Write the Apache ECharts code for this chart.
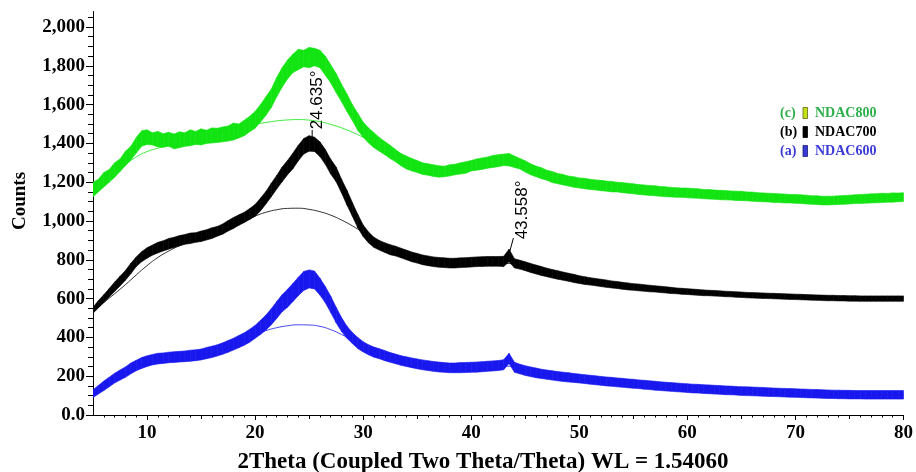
<!DOCTYPE html>
<html><head><meta charset="utf-8">
<script src="https://cdn.jsdelivr.net/npm/echarts@6/dist/echarts.min.js"></script>
<style>html,body{margin:0;padding:0;background:#fff}#c{width:916px;height:472px}</style>
</head><body><div id="c"></div>
<script>
// ---- data ----
const theta = [5,5.5,6,6.5,7,7.5,8,8.5,9,9.5,10,10.5,11,11.5,12,12.5,13,13.5,14,14.5,15,15.5,16,16.5,17,17.5,18,18.5,19,19.5,20,20.5,21,21.5,22,22.5,23,23.5,24,24.5,25,25.5,26,26.5,27,27.5,28,28.5,29,29.5,30,30.5,31,31.5,32,32.5,33,33.5,34,34.5,35,35.5,36,36.5,37,37.5,38,38.5,39,39.5,40,40.5,41,41.5,42,42.5,43,43.5,44,44.5,45,45.5,46,46.5,47,47.5,48,48.5,49,49.5,50,50.5,51,51.5,52,52.5,53,53.5,54,54.5,55,55.5,56,56.5,57,57.5,58,58.5,59,59.5,60,60.5,61,61.5,62,62.5,63,63.5,64,64.5,65,65.5,66,66.5,67,67.5,68,68.5,69,69.5,70,70.5,71,71.5,72,72.5,73,73.5,74,74.5,75,75.5,76,76.5,77,77.5,78,78.5,79,79.5,80];

// NDAC800 (c) – upper / lower edge of the noisy trace
const hi800 = [1200,1215,1250,1265,1300,1320,1360,1385,1430,1465,1470,1455,1462,1450,1458,1448,1460,1455,1470,1462,1475,1468,1480,1478,1485,1490,1505,1500,1520,1540,1565,1600,1640,1680,1740,1790,1830,1860,1885,1880,1895,1890,1880,1850,1805,1760,1705,1655,1600,1555,1510,1480,1455,1430,1410,1390,1368,1348,1335,1322,1312,1300,1295,1290,1285,1282,1290,1293,1300,1305,1312,1320,1325,1330,1338,1342,1345,1348,1335,1322,1310,1295,1283,1275,1262,1255,1245,1240,1232,1228,1222,1220,1215,1212,1210,1206,1204,1200,1198,1195,1192,1188,1186,1183,1182,1178,1176,1173,1172,1170,1170,1168,1166,1163,1162,1160,1158,1157,1155,1154,1153,1150,1149,1146,1145,1143,1142,1140,1139,1137,1137,1135,1133,1130,1130,1127,1128,1128,1130,1131,1133,1135,1137,1138,1140,1141,1143,1142,1145,1144,1146];
const lo800 = [1125,1150,1175,1200,1225,1255,1285,1315,1350,1385,1395,1392,1382,1380,1385,1372,1378,1385,1388,1395,1392,1400,1402,1405,1408,1412,1418,1428,1440,1460,1478,1510,1545,1585,1640,1690,1732,1765,1780,1795,1790,1800,1790,1752,1712,1662,1615,1565,1518,1468,1432,1402,1378,1360,1342,1322,1305,1285,1268,1258,1250,1240,1236,1230,1226,1228,1232,1238,1242,1246,1258,1262,1266,1272,1276,1280,1286,1284,1276,1268,1252,1238,1228,1218,1210,1198,1192,1186,1180,1174,1170,1166,1162,1160,1156,1154,1150,1150,1146,1143,1140,1137,1134,1132,1130,1127,1125,1124,1122,1122,1120,1118,1117,1115,1113,1112,1110,1109,1108,1106,1105,1104,1102,1100,1099,1098,1096,1095,1093,1093,1091,1090,1088,1086,1085,1083,1083,1084,1085,1086,1088,1090,1090,1092,1093,1094,1095,1097,1097,1099,1100];

// NDAC700 (b)
const hi700 = [555,590,620,652,685,715,745,782,815,842,862,876,890,898,910,916,925,930,938,940,948,955,965,972,985,1002,1018,1032,1045,1064,1085,1118,1152,1195,1235,1278,1312,1350,1390,1425,1440,1432,1408,1368,1318,1278,1215,1158,1095,1035,980,943,916,900,888,878,870,860,850,840,833,825,820,815,812,810,808,808,810,811,813,815,816,817,817,817,818,855,806,798,790,781,773,765,757,750,744,737,731,725,718,713,708,704,700,696,691,688,684,681,677,675,672,669,666,664,661,658,655,653,651,649,647,645,643,642,640,638,637,635,634,632,631,630,629,628,627,626,625,624,623,622,621,620,619,618,617,617,616,616,615,615,614,614,614,614,614,614,614,614,614];
const lo700 = [525,552,580,608,637,665,695,728,765,790,808,824,835,846,855,864,872,880,884,890,894,902,910,922,932,948,962,978,992,1008,1025,1052,1088,1125,1165,1202,1238,1270,1310,1345,1360,1358,1332,1292,1242,1202,1145,1082,1025,965,920,887,864,850,838,826,820,810,800,790,783,775,770,765,762,760,758,758,760,761,763,765,766,767,767,767,765,790,758,752,744,735,727,719,713,706,700,695,689,683,678,673,670,666,662,658,655,652,648,645,643,640,638,635,634,631,629,626,625,622,621,619,617,615,615,613,612,610,609,607,606,604,603,602,601,600,599,598,597,596,595,594,593,592,591,590,589,589,588,588,587,587,586,586,586,586,586,586,586,586,586];

// NDAC600 (a)
const hi600 = [130,152,175,195,215,232,248,268,282,296,305,312,318,320,324,326,328,330,334,336,340,348,355,362,372,384,396,410,424,442,462,488,515,548,585,620,648,678,710,740,748,742,705,662,612,555,502,458,425,400,378,362,350,342,332,322,314,306,300,294,289,284,280,276,273,270,268,268,270,271,272,273,275,277,279,281,285,318,272,262,254,248,242,236,232,228,224,221,218,214,211,208,205,202,199,196,194,191,189,186,184,181,179,176,174,171,169,167,165,163,161,159,158,156,155,153,152,150,149,147,146,145,144,143,142,140,139,138,137,136,135,134,133,132,131,130,129,128,128,127,127,126,126,126,126,126,126,126,126,126,126];
const lo600 = [90,108,126,145,165,180,194,212,228,240,250,258,263,266,269,271,273,275,277,280,284,290,296,304,313,323,335,347,360,375,395,415,438,465,498,532,555,585,615,642,655,650,618,578,528,475,430,395,368,343,325,310,298,290,280,272,264,256,250,244,238,233,229,225,222,220,218,218,218,219,220,221,223,225,227,229,233,265,220,212,204,198,192,188,184,180,176,173,170,168,165,162,159,156,153,150,148,145,143,140,138,136,133,131,128,126,124,122,120,118,116,114,113,111,110,108,107,105,104,103,101,100,99,98,97,96,95,94,93,92,91,90,89,88,87,86,85,85,84,84,83,83,83,82,82,82,82,82,82,82,82];

// fitted backgrounds (thin curves), 1-degree steps
const bgTheta = [5,6,7,8,9,10,11,12,13,14,15,16,17,18,19,20,21,22,23,24,25,26,27,28,29,30,31,32,33,34,35,36,37,38,39,40,41,42,43,44,45,46,47,48,49,50,51,52,53,54,55,56,57,58,59,60,61,62,63,64,65,66,67,68,69,70,71,72,73,74,75,76,77,78,79,80];
const bg800 = [1150,1200,1245,1290,1330,1358,1375,1390,1405,1420,1435,1448,1460,1472,1485,1498,1508,1516,1521,1523,1520,1512,1498,1480,1458,1432,1405,1375,1340,1305,1280,1265,1258,1260,1268,1280,1290,1298,1302,1298,1280,1255,1235,1218,1205,1195,1188,1182,1177,1172,1165,1160,1155,1150,1147,1145,1141,1137,1134,1131,1129,1125,1122,1119,1116,1114,1110,1107,1105,1107,1110,1113,1116,1118,1120,1122];
const bg700 = [535,580,625,672,722,770,812,845,872,893,910,927,946,970,998,1025,1045,1058,1065,1066,1060,1048,1030,1005,975,940,900,865,842,825,808,795,787,783,784,786,787,786,783,778,767,750,735,722,710,698,689,681,673,666,660,655,650,645,640,636,632,629,626,623,620,617,615,613,611,609,607,605,603,602,601,600,600,600,600,600];
const bg600 = [105,145,185,218,248,268,282,292,298,304,311,322,338,360,388,413,435,450,460,465,464,457,440,415,385,350,322,303,288,274,263,254,247,242,243,245,247,250,252,248,228,216,207,199,193,187,181,175,170,165,160,155,150,146,142,138,135,132,129,126,123,121,119,117,115,113,111,109,107,106,105,104,104,104,104,104];

// axis ticks / labels
const xLabelVals = [10,20,30,40,50,60,70,80];
const xMidTicks = [15,25,35,45,55,65,75];
const xMinorTicks = [6,7,8,9,11,12,13,14,16,17,18,19,21,22,23,24,26,27,28,29,31,32,33,34,36,37,38,39,41,42,43,44,46,47,48,49,51,52,53,54,56,57,58,59,61,62,63,64,66,67,68,69,71,72,73,74,76,77,78,79];
const yLabelVals = [0,200,400,600,800,1000,1200,1400,1600,1800,2000];
const yMinorTicks = [50,100,150,250,300,350,450,500,550,650,700,750,850,900,950,1050,1100,1150,1250,1300,1350,1450,1500,1550,1650,1700,1750,1850,1900,1950,2050];

const seriesNames = ['NDAC800','NDAC700','NDAC600'];
const seriesTags = ['(c)','(b)','(a)'];
const peakLabels = [{text:'24.635°', at:[25.74,1624], lead:[[25.28,1469],[25.28,1433]]},
                    {text:'43.558°', at:[44.73,1057], lead:[[43.9,912],[43.55,840]]}];

// ---- chart ----
const serif = '"Liberation Serif","Times New Roman",serif';
const colors = ['#12e412','#000000','#1818ee'];
const pairs = (xs, ys) => xs.map((x,i)=>[x, ys[i]]);
const bands = [[hi800,lo800],[hi700,lo700],[hi600,lo600]];
const bgs = [bg800,bg700,bg600];

const series = [];
bands.forEach(([hi,lo],k)=>{
  const rows = theta.map((x,i)=>[x, hi[i], lo[i]]);
  series.push({type:'custom', name:seriesNames[k], data:rows, z:2, silent:true, clip:true,
    encode:{x:0, y:[1,2]},
    renderItem:(params, api)=>{
      const i = params.dataIndex;
      if (i >= rows.length-1) return null;
      const a = rows[i], b = rows[i+1];
      const p1 = api.coord([a[0],a[1]]), p2 = api.coord([b[0],b[1]]);
      const p3 = api.coord([b[0],b[2]]), p4 = api.coord([a[0],a[2]]);
      return {type:'polygon', shape:{points:[p1,p2,p3,p4]},
        style:{fill:colors[k], stroke:colors[k], lineWidth:0.6}};
    }});
});
bgs.forEach((b,k)=>{
  series.push({type:'line', name:seriesNames[k]+'_bg', data:pairs(bgTheta,b), showSymbol:false, symbol:'none', smooth:true,
    lineStyle:{width:0.8,color:colors[k]}, z:3, silent:true});
});

const xBase = {type:'value', min:5, max:80, position:'bottom', gridIndex:0, splitLine:{show:false}};
const yBase = {type:'value', min:0, max:2080, position:'left', gridIndex:0, splitLine:{show:false}};
const chart = echarts.init(document.getElementById('c'), null, {renderer:'canvas'});
chart.setOption({
  animation:false,
  backgroundColor:'#fff',
  grid:{left:93,right:10,top:11.5,bottom:57,containLabel:false},
  xAxis:[
    Object.assign({}, xBase, {axisLine:{lineStyle:{color:'#000',width:1}},
      axisTick:{customValues:xLabelVals,length:5,lineStyle:{color:'#000'}},
      axisLabel:{customValues:xLabelVals,margin:9,color:'#000',fontFamily:serif,fontWeight:'bold',fontSize:19}}),
    Object.assign({}, xBase, {axisLine:{show:false}, axisLabel:{show:false},
      axisTick:{customValues:xMidTicks,length:4,lineStyle:{color:'#000'}}}),
    Object.assign({}, xBase, {axisLine:{show:false}, axisLabel:{show:false},
      axisTick:{customValues:xMinorTicks,length:2.5,lineStyle:{color:'#000'}}})
  ],
  yAxis:[
    Object.assign({}, yBase, {axisLine:{show:true,lineStyle:{color:'#000',width:1}},
      axisTick:{show:true,customValues:yLabelVals,length:7,lineStyle:{color:'#000'}},
      axisLabel:{customValues:yLabelVals,margin:8,color:'#000',fontFamily:serif,fontWeight:'bold',fontSize:19,
        formatter:v=> v===0 ? '0.0' : Number(v).toLocaleString('en-US')}}),
    Object.assign({}, yBase, {axisLine:{show:false}, axisLabel:{show:false},
      axisTick:{show:true,customValues:yMinorTicks,length:5,lineStyle:{color:'#000'}}})
  ],
  series: series
});

// annotations, axis titles and legend (text)
const px = p => chart.convertToPixel({xAxisIndex:0,yAxisIndex:0}, p);
const graphics = [];
peakLabels.forEach(p=>{
  const c = px(p.at);
  graphics.push({type:'text', x:c[0], y:c[1], rotation:Math.PI/2,
    style:{text:p.text, fill:'#000', font:'17px "Liberation Sans", Arial, sans-serif', align:'center', verticalAlign:'middle'}});
  const a = px(p.lead[0]), b = px(p.lead[1]);
  graphics.push({type:'line', shape:{x1:a[0],y1:a[1],x2:b[0],y2:b[1]}, style:{stroke:'#000',lineWidth:1}});
});
graphics.push({type:'text', x:483, y:462, style:{text:'2Theta (Coupled Two Theta/Theta) WL = 1.54060', fill:'#000',
  font:'bold 23px '+serif, align:'center', verticalAlign:'middle'}});
graphics.push({type:'text', x:20, y:201, rotation:Math.PI/2, style:{text:'Counts', fill:'#000',
  font:'bold 19px '+serif, align:'center', verticalAlign:'middle'}});
const legText = ['#2fae4c','#000000','#3a3ad6'];
const legBox = ['#c6e01a','#000000','#3a3ad6'];
const legBorder = ['#5d6a10','#000000','#1a1a70'];
[0,1,2].forEach(k=>{
  const yc = 113 + k*19;
  graphics.push({type:'text', x:780, y:yc, style:{text:seriesTags[k], fill:legText[k], font:'bold 14px '+serif, verticalAlign:'middle'}});
  graphics.push({type:'rect', shape:{x:803, y:yc-5.5, width:4.5, height:11}, style:{fill:legBox[k], stroke:legBorder[k], lineWidth:0.8}});
  graphics.push({type:'text', x:815, y:yc, style:{text:seriesNames[k], fill:legText[k], font:'bold 14px '+serif, verticalAlign:'middle'}});
});
chart.setOption({graphic: graphics});
</script>
</body></html>
